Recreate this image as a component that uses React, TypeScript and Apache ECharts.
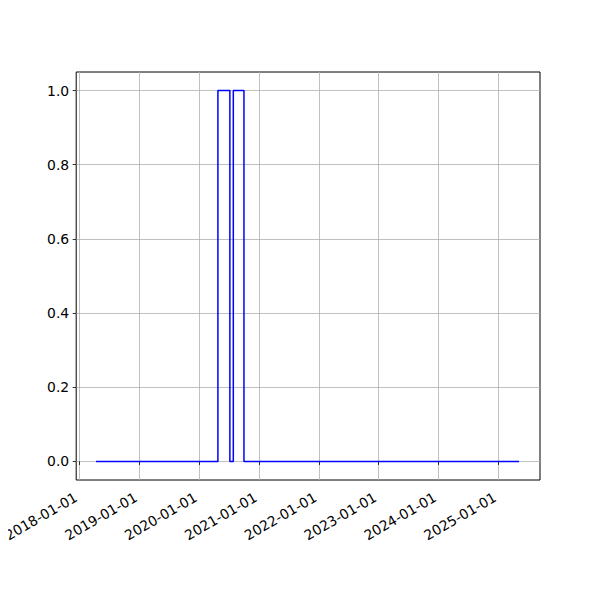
import React, { useEffect, useRef } from "react";
import * as echarts from "echarts";

const changeDates = ["2018-04-12", "2020-04-25", "2020-07-07", "2020-07-28", "2020-10-01", "2025-05-07"];
const changeValues = [0, 1, 0, 1, 0, 0];
const xTickDates = ["2018-01-01", "2019-01-01", "2020-01-01", "2021-01-01", "2022-01-01", "2023-01-01", "2024-01-01", "2025-01-01"];
const yTicks = [0, 0.2, 0.4, 0.6, 0.8, 1.0];

const ts = (s: string) => {
  const [y, m, d] = s.split("-").map(Number);
  return Date.UTC(y, m - 1, d);
};
const fmt = (v: number) => {
  const d = new Date(v);
  const p = (n: number) => String(n).padStart(2, "0");
  return `${d.getUTCFullYear()}-${p(d.getUTCMonth() + 1)}-${p(d.getUTCDate())}`;
};

const FONT = "DejaVu Sans";
const FS = 13.9;

export default function App() {
  const ref = useRef<HTMLDivElement>(null);
  useEffect(() => {
    if (!ref.current) return;
    const chart = echarts.init(ref.current, undefined, { renderer: "svg" });
    const xTicks = xTickDates.map(ts);
    chart.setOption({
      animation: false,
      backgroundColor: "#fff",
      grid: {
        left: 75,
        top: 72,
        width: 465,
        height: 408,
        show: true,
        borderColor: "#000",
        borderWidth: 1,
        backgroundColor: "transparent",
      },
      xAxis: {
        type: "value",
        min: ts("2017-12-12"),
        max: ts("2025-09-12"),
        axisLine: { show: false },
        axisTick: { show: true, customValues: xTicks, length: 3.5, lineStyle: { color: "#000", width: 0.8 } },
        axisLabel: {
          customValues: xTicks,
          rotate: 30,
          margin: 14,
          padding: [0, 4, 0, 0],
          formatter: (v: number) => fmt(v),
          color: "#000",
          fontFamily: FONT,
          fontSize: FS,
        },
        splitLine: { show: true, lineStyle: { color: "#b0b0b0", width: 0.8 } },
      },
      yAxis: {
        type: "value",
        min: -0.05,
        max: 1.05,
        axisLine: { show: false },
        axisTick: { show: true, customValues: yTicks, length: 3.5, lineStyle: { color: "#000", width: 0.8 } },
        axisLabel: {
          customValues: yTicks,
          margin: 7,
          formatter: (v: number) => v.toFixed(1),
          color: "#000",
          fontFamily: FONT,
          fontSize: FS,
        },
        splitLine: { show: true, lineStyle: { color: "#b0b0b0", width: 0.8 } },
      },
      series: [
        {
          type: "line",
          step: "end",
          showSymbol: false,
          symbol: "none",
          data: changeDates.map((d, i) => [ts(d), changeValues[i]]),
          lineStyle: { color: "#0000ff", width: 1.5 },
        },
      ],
    });
    return () => chart.dispose();
  }, []);
  return <div ref={ref} style={{ width: 600, height: 600, margin: -8 }} />;
}
